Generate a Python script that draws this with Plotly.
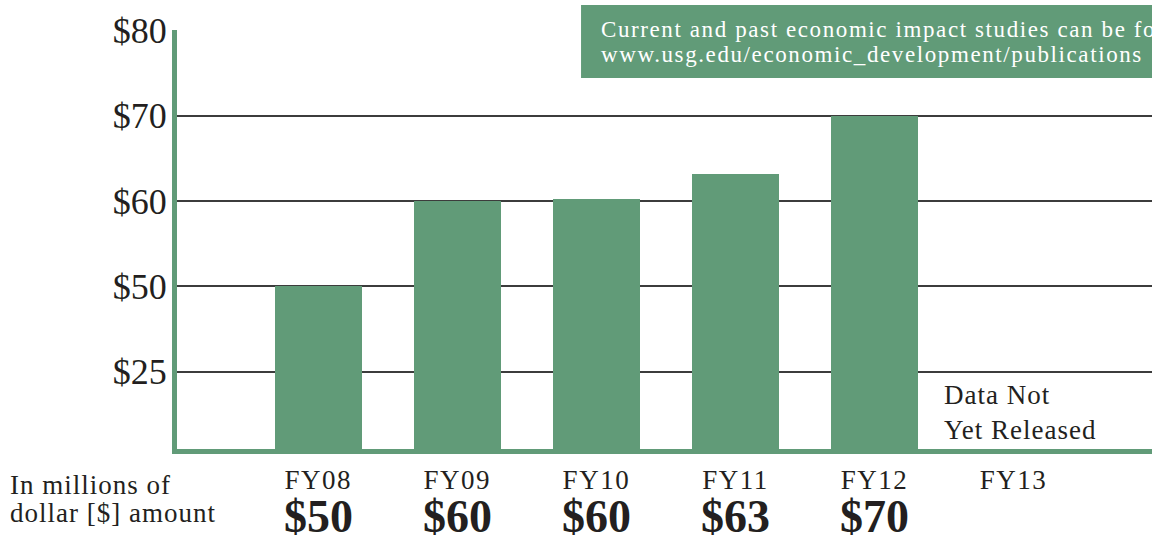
import plotly.graph_objects as go

# ---- data ----
categories = ["FY08", "FY09", "FY10", "FY11", "FY12", "FY13"]
values = [50, 60, 60.2, 63.2, 70, None]
value_labels = ["$50", "$60", "$60", "$63", "$70", ""]
y_tickvals = [40, 50, 60, 70, 80]
y_ticktext = ["$25", "$50", "$60", "$70", "$80"]
unit_note = ["In millions of", "dollar [$] amount"]
pending_note = "Data Not<br>Yet Released"
box_lines = ["Current and past economic impact studies can be found at",
             "www.usg.edu/economic_development/publications"]

GREEN = "#619b78"
INK = "#231f20"
SERIF = "Liberation Serif, Times New Roman, serif"


def spaced(t, px):
    return f"<span style='letter-spacing:{px}px'>{t}</span>"


fig = go.Figure()
fig.add_trace(go.Bar(
    x=categories, y=values, width=0.626,
    marker=dict(color=GREEN, line=dict(width=0)),
    hoverinfo="skip",
))

annotations = []
for cat, lab in zip(categories, value_labels):
    if lab:
        annotations.append(dict(
            x=cat, xref="x", y=-0.1606, yref="paper", text=f"<b>{lab}</b>",
            showarrow=False, xanchor="center", yanchor="middle",
            font=dict(family=SERIF, size=46, color=INK)))

annotations.append(dict(
    x=4.485, xref="x", y=35.2, yref="y",
    text="<br>".join(spaced(t, 1) for t in pending_note.split("<br>")),
    showarrow=False, xanchor="left", yanchor="middle", align="left",
    font=dict(family=SERIF, size=27, color=INK)))

for t, yy in zip(unit_note, [-0.0859, -0.1527]):
    annotations.append(dict(
        x=-0.1733, xref="paper", y=yy, yref="paper", text=spaced(t, 1),
        showarrow=False, xanchor="left", yanchor="middle", align="left",
        font=dict(family=SERIF, size=27, color=INK)))

for t, yy in zip(box_lines, [1.0005, 0.9425]):
    annotations.append(dict(
        x=0.4328, xref="paper", y=yy, yref="paper", text=spaced(t, 1.6),
        showarrow=False, xanchor="left", yanchor="middle", align="left",
        font=dict(family=SERIF, size=23, color="white")))

fig.update_layout(
    width=1152, height=538,
    margin=dict(l=177, r=0, t=30, b=89, pad=0),
    paper_bgcolor="white", plot_bgcolor="white",
    showlegend=False,
    bargap=0,
    xaxis=dict(
        type="category", range=[-1.016, 5.996],
        tickvals=categories, ticktext=[spaced(c, 1.5) for c in categories],
        showline=True, linecolor=GREEN, linewidth=5,
        showgrid=False, zeroline=False, ticks="",
        tickfont=dict(family=SERIF, size=27, color=INK),
        ticklabelstandoff=3,
    ),
    yaxis=dict(
        range=[30.94, 80.06],
        tickvals=y_tickvals, ticktext=y_ticktext,
        showline=True, linecolor=GREEN, linewidth=5,
        showgrid=True, gridcolor="#3c3c3c", gridwidth=1.5,
        zeroline=False, ticks="",
        tickfont=dict(family=SERIF, size=36, color=INK),
        ticklabelstandoff=-2,
    ),
    shapes=[dict(
        type="rect", xref="paper", yref="paper",
        x0=0.4144, x1=1.1, y0=0.8854, y1=1.0597,
        fillcolor=GREEN, line=dict(width=0), layer="above")],
    annotations=annotations,
)

fig.write_html("out.html", config={"displayModeBar": False},
               post_script="document.body.style.margin='0';")
